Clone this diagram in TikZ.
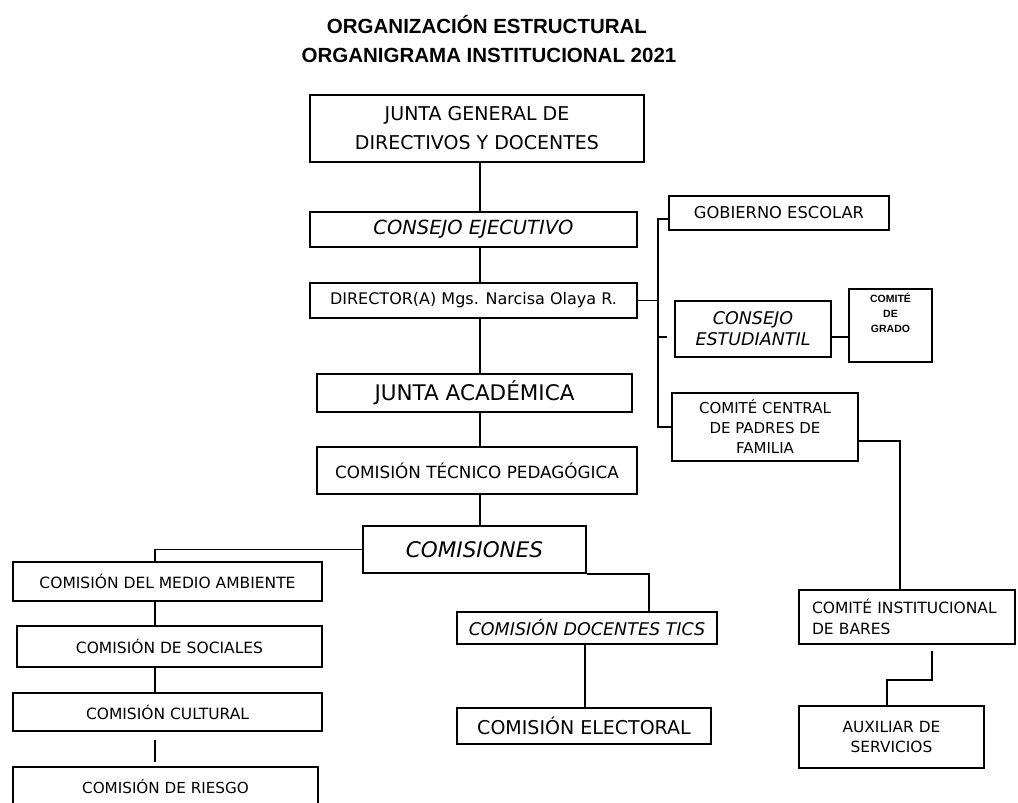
\documentclass[tikz,border=0pt]{standalone}
\usepackage{fontspec}
\setmainfont{DejaVu Sans}
\newfontfamily\titlefont{Liberation Sans}
\usetikzlibrary{calc}
\newcommand{\fsz}[2]{\fontsize{#1}{#2}\selectfont}

\begin{document}
\begin{tikzpicture}
			[x=1pt,y=-1pt,line width=1.6pt]
			\tikzstyle{every node}=[rectangle, draw, fill=white, inner sep=0pt, align=center]
			\tikzstyle{titulo}=[draw=none, fill=none, font=\titlefont\bfseries\fsz{20.5}{24}]
			\useasboundingbox (0,0) rectangle (1018,803);
			
			\node[titulo] (t1) at (487,25) {ORGANIZACIÓN ESTRUCTURAL};
			\node[titulo] (t2) at (489,55) {ORGANIGRAMA INSTITUCIONAL 2021};
			
			% columna central
			\node[minimum width=334, minimum height=67, font=\fsz{19}{29}] (jg) at (477,128.5) {JUNTA GENERAL DE\\DIRECTIVOS Y DOCENTES};
			\node[minimum width=327, minimum height=35, font=\itshape\fsz{19.5}{24}] (ce) at (473.5,229.5) {CONSEJO EJECUTIVO};
			\node[minimum width=327, minimum height=35, font=\fsz{16}{20}] (dir) at (473.5,300.5) {DIRECTOR(A) Mgs. Narcisa Olaya R.};
			\node[minimum width=315, minimum height=38, font=\fsz{21.5}{26}] (ja) at (474.5,393) {JUNTA ACADÉMICA};
			\node[minimum width=320, minimum height=47, font=\fsz{16.8}{20}] (ctp) at (477,470.5) {COMISIÓN TÉCNICO PEDAGÓGICA};
			\node[minimum width=223, minimum height=47, font=\itshape\fsz{21.5}{26}] (com) at (474.5,549.5) {COMISIONES};
			
			% comisiones izquierda
			\node[minimum width=309, minimum height=39, font=\fsz{15.5}{19}] (cma) at (167.5,581.5) {COMISIÓN DEL MEDIO AMBIENTE};
			\node[minimum width=305, minimum height=41, font=\fsz{15.5}{19}] (cso) at (169.5,646.5) {COMISIÓN DE SOCIALES};
			\node[minimum width=309, minimum height=38, font=\fsz{15.5}{19}] (ccu) at (167.5,712) {COMISIÓN CULTURAL};
			\node[minimum width=305, minimum height=40, font=\fsz{15.2}{19}] (cri) at (165.5,787) {COMISIÓN DE RIESGO};
			
			% comisiones centro
			\node[minimum width=260, minimum height=32, font=\itshape\fsz{17.5}{21}] (dtic) at (587,628) {COMISIÓN DOCENTES TICS};
			\node[minimum width=254, minimum height=36, font=\fsz{19}{23}] (cel) at (584,726) {COMISIÓN ELECTORAL};
			
			% lado derecho
			\node[minimum width=220, minimum height=34, font=\fsz{16.3}{20}] (gob) at (779,213) {GOBIERNO ESCOLAR};
			\node[minimum width=156, minimum height=56, font=\itshape\fsz{17.5}{21}] (cest) at (753,329) {CONSEJO\\ESTUDIANTIL};
			\node[minimum width=83, minimum height=73] (cg) at (890.5,325.5) {};
			\node[draw=none, fill=none, font=\titlefont\bfseries\fsz{10.5}{15}, below=4pt] (cgt) at (cg.north) {COMITÉ\\DE\\GRADO};
			\node[minimum width=186, minimum height=68, font=\fsz{15}{20}] (cpf) at (765,427) {COMITÉ CENTRAL\\DE PADRES DE\\FAMILIA};
			\node[minimum width=216, minimum height=54, text width=190, align=left, font=\fsz{15.5}{20.5}] (cib) at (907,617) {COMITÉ INSTITUCIONAL\\DE BARES};
			\node[minimum width=185, minimum height=62, font=\fsz{15.4}{20}] (aux) at (891.5,737) {AUXILIAR DE\\SERVICIOS};
			
			% ejes de los conectores
			\coordinate (sp) at (480,0);
			\coordinate (bus) at (658,0);
			\coordinate (kl) at (155,0);
			\coordinate (kt) at (649,0);
			\coordinate (kd) at (585,0);
			\coordinate (kb) at (900,0);
			\coordinate (ka) at (932,0);
			\coordinate (kc) at (887,0);
			
			\draw[] (jg.south -| sp) -- (ce.north -| sp);
			\draw[] (ce.south -| sp) -- (dir.north -| sp);
			\draw[] (dir.south -| sp) -- (ja.north -| sp);
			\draw[] (ja.south -| sp) -- (ctp.north -| sp);
			\draw[] (ctp.south -| sp) -- (com.north -| sp);
			
			\draw[] (dir.east) -- (dir.east -| bus);
			\draw[] ([yshift=-6pt]gob.west) -- ([yshift=-6pt]gob.west -| bus) -- (cpf.west -| bus) -- (cpf.west);
			\draw[] ([yshift=-8pt]cest.west -| bus) -- ([xshift=-7pt,yshift=-8pt]cest.west);
			\draw[] ([yshift=-8pt]cest.east) -- ([yshift=-8pt]cest.east -| cg.west);
			\draw[] ([yshift=-14pt]cpf.east) -| (cib.north -| kb);
			\draw[] ([yshift=-6pt]cib.south -| ka) -- ++(0,29) -| (aux.north -| kc);
			
			\draw[] (com.west) -| (cma.north -| kl);
			\draw[] (cma.south -| kl) -- (cso.north -| kl);
			\draw[] (cso.south -| kl) -- (ccu.north -| kl);
			\draw[shorten <=8pt, shorten >=4pt] (ccu.south -| kl) -- (cri.north -| kl);
			
			\draw[] (com.south east) -| (dtic.north -| kt);
			\draw[] (dtic.south -| kd) -- (cel.north -| kd);
		\end{tikzpicture}
\end{document}
